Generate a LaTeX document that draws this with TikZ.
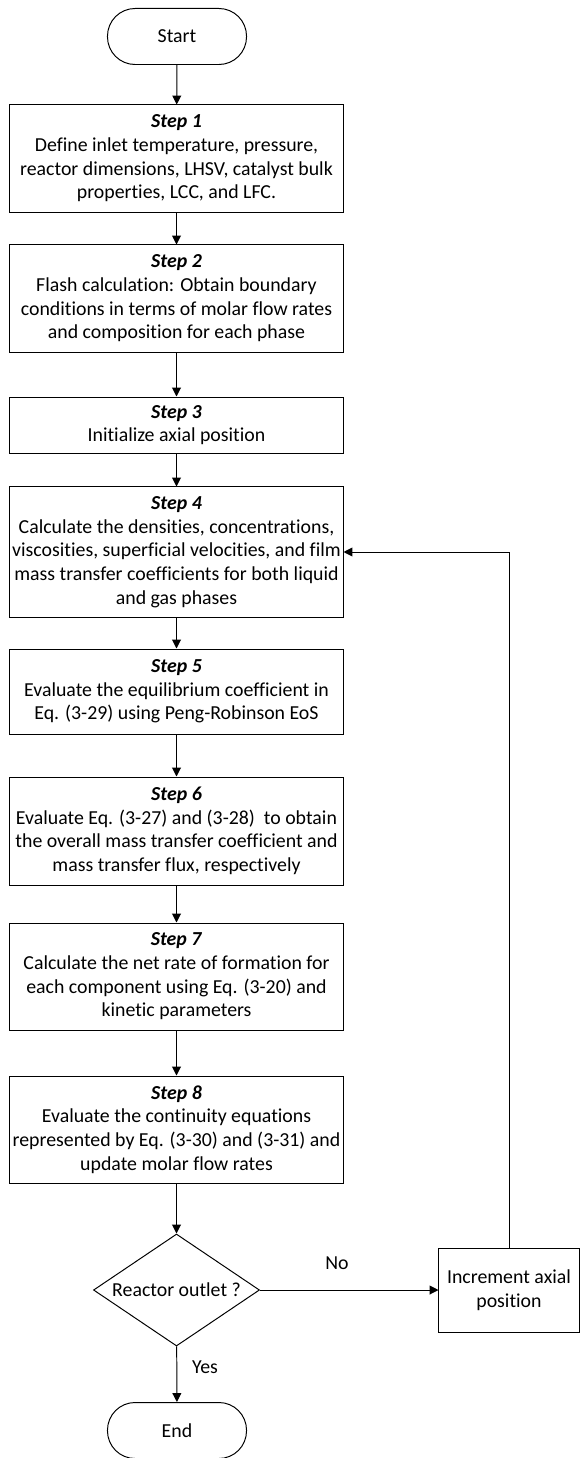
\documentclass[tikz,border=0pt]{standalone}
\usepackage{fontspec}
\setmainfont{Carlito}[Ligatures=NoCommon]
\usetikzlibrary{arrows.meta, shapes.geometric, positioning}

\begin{document}
\begin{tikzpicture}[x=0.025cm, y=-0.025cm, >={Triangle[length=0.22cm,width=0.22cm]}, line width=0.7pt,
		font=\fontsize{14.1}{16.8}\selectfont,
		stepbox/.style={draw, align=center, minimum width=8.325cm, inner sep=0pt},
		term/.style={draw, rounded corners=0.69cm, minimum width=3.475cm, minimum height=1.4cm},
		decision/.style={draw, diamond, aspect=1.48, inner sep=0pt, minimum width=4.15cm, minimum height=2.8cm}]
				\useasboundingbox (0,0) rectangle (580,1458);
				
				\node[term] (start) at (177,36.5) {Start};
				\node[stepbox, minimum height=2.675cm] (s1) at (176.5,158.5) {\textbf{\textit{Step 1}}\\Define inlet temperature, pressure,\\reactor dimensions, LHSV, catalyst bulk\\properties, LCC, and LFC.};
				\node[stepbox, minimum height=2.675cm] (s2) at (176.5,298.5) {\textbf{\textit{Step 2}}\\Flash calculation: Obtain boundary\\conditions in terms of molar flow rates\\and composition for each phase};
				\node[stepbox, minimum height=1.4cm] (s3) at (176.5,425) {\textbf{\textit{Step 3}}\\Initialize axial position};
				\node[stepbox, minimum height=3.25cm] (s4) at (176.5,552) {\textbf{\textit{Step 4}}\\Calculate the densities, concentrations,\\viscosities, superficial velocities, and film\\mass transfer coefficients for both liquid\\and gas phases};
				\node[stepbox, minimum height=2.125cm] (s5) at (176.5,691.5) {\textbf{\textit{Step 5}}\\Evaluate the equilibrium coefficient in\\Eq. (3-29) using Peng-Robinson EoS};
				\node[stepbox, minimum height=2.7cm] (s6) at (176.5,831) {\textbf{\textit{Step 6}}\\Evaluate Eq. (3-27) and (3-28) \ to obtain\\the overall mass transfer coefficient and\\mass transfer flux, respectively};
				\node[stepbox, minimum height=2.675cm] (s7) at (176.5,976.5) {\textbf{\textit{Step 7}}\\Calculate the net rate of formation for\\each component using Eq. (3-20) and\\kinetic parameters};
				\node[stepbox, minimum height=2.675cm] (s8) at (176.5,1129.5) {\textbf{\textit{Step 8}}\\Evaluate the continuity equations\\represented by Eq. (3-30) and (3-31) and\\update molar flow rates};
				\node[decision] (outlet) at (176.5,1290) {Reactor outlet ?};
				\node[stepbox, minimum width=3.5cm, minimum height=2.1cm] (incr) at (509,1290) {Increment axial\\position};
				\node[term] (end) at (177,1430.5) {End};
				
				\foreach \a/\b in {start/s1, s1/s2, s2/s3, s3/s4, s4/s5, s5/s6, s6/s7, s7/s8, s8/outlet, outlet/end}
					\draw[->] (\a) -- (\b);
				\draw[->] (outlet) -- (incr);
				\draw[->] (incr.north) |- (s4.east);
				
				\node (no) at (337,1263) {No};
				\node (yes) at (205,1367) {Yes};
			\end{tikzpicture}
\end{document}
